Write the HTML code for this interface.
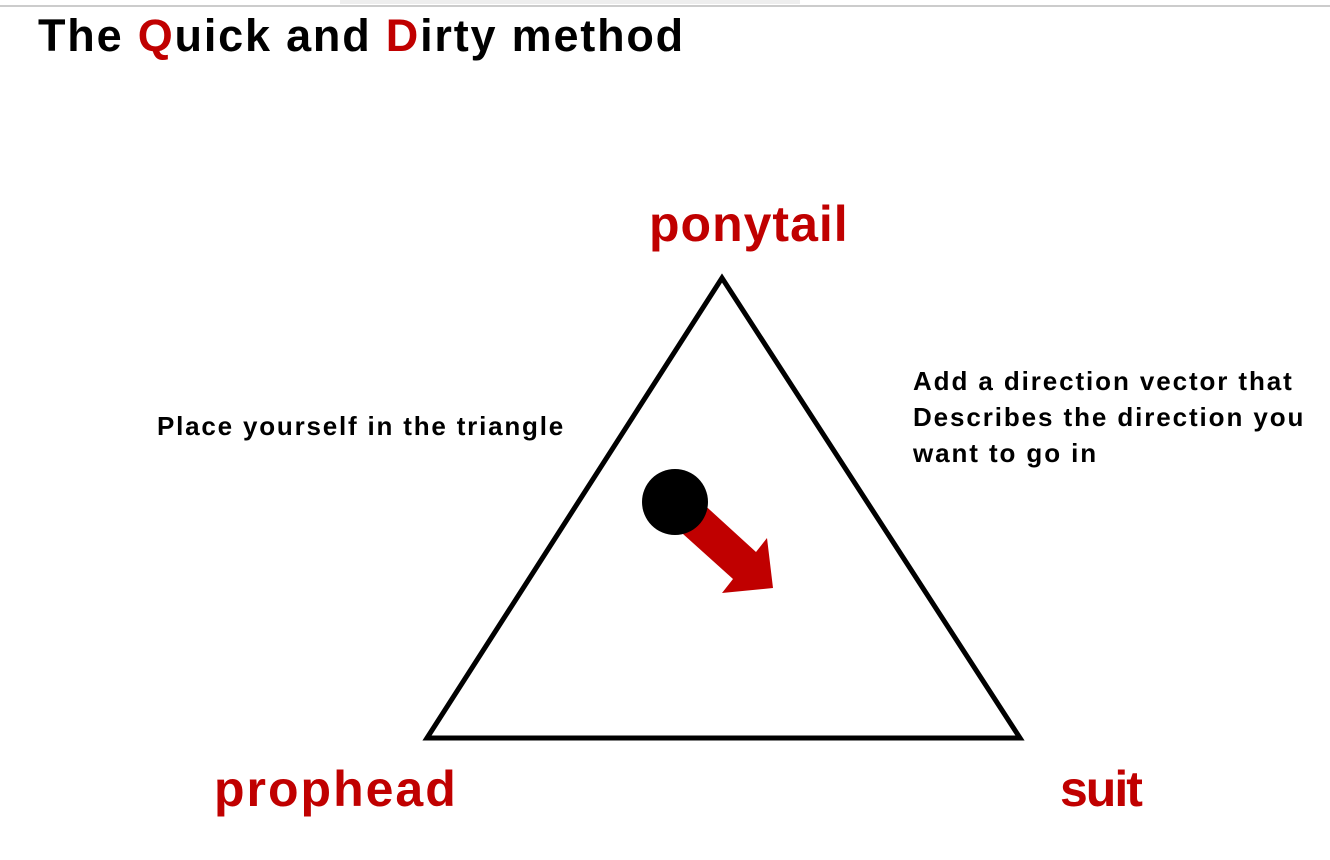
<!DOCTYPE html>
<html><head><style>
body{margin:0;width:1330px;height:860px;background:#fff;overflow:hidden;position:relative;font-family:"Liberation Sans",sans-serif}
.t{position:absolute;white-space:nowrap;font-weight:bold}
.r{color:#c00000}
</style></head><body>
<div style="position:absolute;left:0;top:5px;width:1330px;height:2px;background:#ccc"></div>
<div style="position:absolute;left:340px;top:0;width:460px;height:4px;background:#eee"></div>
<div class="t" style="left:38px;top:10px;font-size:45px;letter-spacing:1.8px;font-weight:900">The <span class="r">Q</span>uick and <span class="r">D</span>irty method</div>
<div class="t r" style="left:649px;top:195px;font-size:50px;letter-spacing:1px">ponytail</div>
<div class="t r" style="left:214px;top:760px;font-size:50px;letter-spacing:2px">prophead</div>
<div class="t r" style="left:1060px;top:760px;font-size:50px;letter-spacing:-2px">suit</div>
<div class="t" style="left:157px;top:411px;font-size:26px;letter-spacing:1.8px">Place yourself in the triangle</div>
<div class="t" style="left:913px;top:363px;font-size:26px;line-height:36px;letter-spacing:1.9px">Add a direction vector that<br>Describes the direction you<br>want to go in</div>
<svg width="1330" height="860" style="position:absolute;left:0;top:0">
<polygon points="722,278 427,738 1020,738" fill="none" stroke="#000" stroke-width="5" stroke-linejoin="miter"/>
<polygon points="687,489 756,552 767,538 773,588 722,593 733,579 663,516" fill="#c00000"/>
<circle cx="675" cy="502" r="33" fill="#000"/>
</svg>
</body></html>
